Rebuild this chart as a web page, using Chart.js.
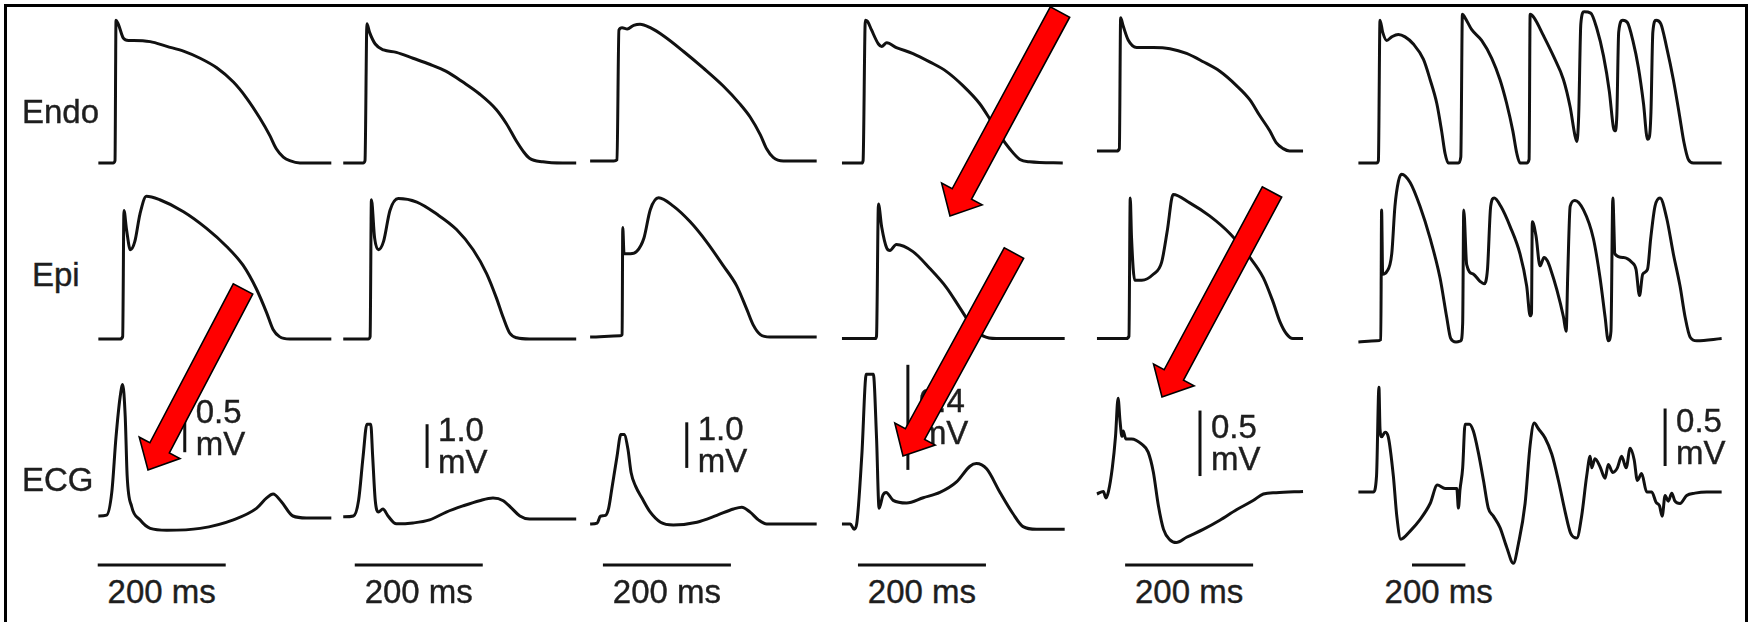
<!DOCTYPE html>
<html>
<head>
<meta charset="utf-8">
<script src="https://cdn.jsdelivr.net/npm/chart.js@4.4.1/dist/chart.umd.min.js"></script>
<style>
	html, body { margin: 0; padding: 0; background: #fff; overflow: hidden; }
	#fig { position: relative; width: 1748px; height: 622px; overflow: hidden; background: #fff; }
	#frame { position: absolute; left: 4px; top: 4px; width: 1744px; height: 700px; border: 3px solid #000; box-sizing: border-box; }
	.lbl { position: absolute; font-family: "Liberation Sans", Arial, sans-serif; font-size: 33px; line-height: 32px; color: #1e1e1e; -webkit-text-stroke: 0.4px #1e1e1e; white-space: nowrap; }
</style>
</head>
<body>
<div id="fig"><div id="frame"></div></div>
<script>
// traces: [time ms, value]; action potentials in mV, ECG in mV
const endoCol1 = [[-26,-85],[-3,-85],[0,-83],[1.6,35],[5,32],[13,20],[21,18],[29,18],[55,17],[81,13],[107,9],[133,3],[159,-5],[185,-17],[205,-30],[226,-47],[242,-62],[252,-73],[263,-80],[273,-83],[289,-85],[338,-85]];
const epiCol1 = [[-26,-85],[8,-85],[12,-83],[14,23],[18,7],[24,-10],[31,-3],[39,20],[49,35],[70,32],[107,22],[143,8],[174,-7],[200,-23],[221,-43],[237,-63],[247,-77],[257,-83],[273,-85],[338,-85]];
const ecgCol1 = [[-26,0],[-13,0.01],[-5,0.25],[1.6,0.83],[8,1.25],[12,1.38],[16,1.04],[19,0.42],[26,0.1],[39,-0.04],[55,-0.13],[81,-0.15],[133,-0.13],[185,-0.04],[221,0.08],[237,0.19],[247,0.23],[260,0.15],[278,0],[299,-0.02],[338,-0.02]];

const endoCol2 = [[-34,-85],[-3,-85],[0,-83],[3,32],[7,25],[16,15],[29,10],[49,8],[75,3],[101,-2],[127,-8],[153,-17],[179,-27],[205,-40],[221,-52],[237,-67],[247,-75],[257,-81],[278,-84],[309,-85],[330,-85]];
const epiCol2 = [[-34,-85],[5,-85],[8,-83],[10,32],[15,0],[21,-10],[29,-3],[39,23],[52,33],[81,30],[112,20],[143,7],[169,-10],[190,-30],[205,-50],[216,-67],[226,-80],[237,-84],[257,-85],[330,-85]];
const ecgCol2 = [[-34,-0.02],[-18,0],[-10,0.36],[-3,1.36],[3,2.1],[9,2.1],[12,1.36],[16,0.36],[21,0.09],[28,0.16],[36,0],[49,-0.18],[75,-0.16],[101,-0.09],[127,0.09],[153,0.23],[179,0.35],[200,0.41],[216,0.35],[229,0.18],[242,0],[257,-0.07],[330,-0.07]];

const endoCol3 = [[-42,-85],[-5,-85],[0,-84],[3,25],[8,27],[16,26],[26,29],[36,30],[52,27],[73,20],[104,7],[135,-7],[166,-22],[192,-37],[208,-48],[224,-63],[234,-75],[244,-82],[260,-85],[312,-85]];
const epiCol3 = [[-42,-85],[5,-84],[8,-83],[9,7],[11,-15],[21,-15],[31,-13],[42,-2],[52,22],[65,32],[88,25],[114,12],[140,-5],[166,-25],[187,-42],[203,-62],[213,-75],[224,-83],[239,-85],[312,-85]];
const ecgCol3 = [[-42,0],[-31,0.02],[-26,0.17],[-18,0.19],[-13,0.35],[-8,0.78],[0,1.48],[6,1.96],[11,1.96],[17,1.65],[22,1.13],[29,0.83],[39,0.57],[52,0.26],[68,0.04],[88,-0.02],[125,0.04],[156,0.19],[182,0.33],[195,0.37],[208,0.26],[221,0.09],[234,0],[312,0]];

const endoCol4 = [[-36,-85],[-5,-85],[-3,-83],[0.5,35],[4,34],[10,27],[21,15],[26,13],[34,16],[49,12],[75,7],[101,0],[127,-8],[153,-20],[179,-35],[195,-48],[211,-62],[226,-73],[242,-82],[257,-84],[309,-85]];
const epiCol4 = [[-36,-85],[16,-85],[18,-83],[21,28],[26,9],[34,-9],[39,-11],[49,-6],[75,-12],[101,-26],[127,-42],[148,-59],[169,-76],[185,-83],[205,-85],[312,-85]];
const ecgCol4 = [[-36,0],[-23,0],[-17,-0.02],[-13,0],[-5,0.26],[2,0.57],[13,0.57],[18,0.33],[22,0.06],[28,0.11],[33,0.12],[44,0.09],[65,0.08],[91,0.1],[117,0.12],[143,0.16],[164,0.22],[174,0.23],[190,0.21],[211,0.12],[231,0.04],[247,-0.01],[268,-0.02],[312,-0.02]];

const endoCol5 = [[-36,-85],[-5,-85],[-1,-83],[1,27],[5,20],[13,8],[26,2],[52,2],[78,1],[104,-3],[130,-10],[156,-18],[182,-30],[203,-42],[218,-55],[234,-68],[244,-78],[255,-83],[265,-85],[286,-85]];
const epiCol5 = [[-36,-85],[10,-85],[14,-83],[16,33],[18,0],[23,-36],[34,-36],[52,-31],[65,-21],[74,6],[83,36],[109,29],[140,18],[172,3],[203,-17],[224,-34],[239,-54],[250,-71],[260,-81],[270,-85],[286,-85]];
const ecgCol5 = [[-36,0],[-26,0.02],[-22,-0.03],[-18,0.02],[-12,0.2],[-7,0.44],[-3,0.73],[0,0.56],[3,0.44],[5,0.48],[9,0.42],[18,0.42],[34,0.38],[44,0.32],[52,0.17],[60,-0.09],[68,-0.27],[78,-0.35],[88,-0.37],[104,-0.33],[130,-0.27],[156,-0.2],[182,-0.12],[208,-0.05],[224,0],[244,0.01],[286,0.02]];

const endoCol6 = [[-81,-85],[-13,-85],[-6,-83],[0,35],[10,25],[25,18],[44,21],[69,23],[94,21],[125,15],[163,2],[188,-15],[213,-35],[231,-58],[244,-77],[256,-85],[294,-85],[303,-80],[309,40],[319,37],[344,27],[381,18],[419,3],[450,-15],[475,-35],[498,-58],[513,-77],[525,-85],[550,-85],[559,-82],[563,40],[578,37],[613,22],[650,5],[688,-15],[713,-38],[731,-62],[738,-67],[745,-45],[753,32],[765,42],[790,41],[813,28],[838,5],[860,-25],[875,-55],[881,-58],[888,-45],[895,25],[910,35],[928,33],[948,18],[969,-5],[988,-35],[1003,-65],[1010,-63],[1016,-42],[1023,25],[1035,35],[1053,32],[1075,12],[1100,-15],[1123,-45],[1140,-68],[1156,-82],[1175,-85],[1281,-85]];
const epiCol6 = [[-81,-85],[-13,-84],[3,-83],[6,26],[10,-28],[25,-26],[44,-11],[56,29],[69,50],[81,56],[113,49],[150,29],[188,2],[225,-31],[250,-64],[265,-82],[285,-85],[303,-84],[310,-69],[314,26],[325,-20],[350,-28],[375,-34],[390,-36],[403,-24],[415,29],[428,36],[453,29],[488,12],[525,-11],[550,-38],[563,-63],[568,-61],[571,16],[585,4],[600,-21],[615,-14],[628,-17],[640,-24],[663,-41],[688,-64],[698,-76],[704,-28],[713,29],[731,34],[763,26],[800,2],[825,-31],[844,-64],[856,-84],[866,-76],[873,36],[881,-11],[913,-14],[944,-18],[960,-24],[973,-46],[985,-28],[1003,-24],[1015,2],[1031,29],[1050,36],[1075,19],[1100,-11],[1125,-38],[1144,-64],[1163,-81],[1188,-84],[1281,-82]];
const ecgCol6 = [[-81,0],[-25,0],[-13,0.14],[-4,0.91],[0,0.55],[6,0.48],[19,0.52],[31,0.48],[50,0.14],[63,-0.21],[78,-0.41],[113,-0.34],[150,-0.24],[188,-0.1],[215,0.06],[244,0.03],[288,0.03],[294,-0.14],[300,0.02],[310,0.21],[319,0.59],[335,0.59],[350,0.53],[369,0.34],[388,0.1],[406,-0.14],[425,-0.21],[450,-0.31],[475,-0.48],[500,-0.62],[519,-0.45],[544,-0.1],[563,0.41],[578,0.6],[594,0.55],[619,0.47],[644,0.33],[669,0.1],[694,-0.17],[715,-0.36],[738,-0.4],[756,-0.21],[775,0.14],[788,0.31],[794,0.21],[806,0.29],[825,0.22],[844,0.12],[856,0.24],[873,0.17],[890,0.21],[906,0.31],[923,0.21],[938,0.38],[953,0.28],[965,0.1],[981,0.16],[1000,0],[1019,0],[1035,-0.09],[1048,-0.12],[1058,-0.21],[1069,-0.03],[1081,-0.08],[1094,-0.01],[1106,-0.08],[1125,-0.1],[1150,-0.03],[1181,-0.01],[1225,0],[1281,0]];

const rowNames = ["Endo", "Epi", "ECG"];
const endoTraces = [endoCol1, endoCol2, endoCol3, endoCol4, endoCol5, endoCol6];
const epiTraces = [epiCol1, epiCol2, epiCol3, epiCol4, epiCol5, epiCol6];
const ecgTraces = [ecgCol1, ecgCol2, ecgCol3, ecgCol4, ecgCol5, ecgCol6];

// voltage calibration bars (ms, mV start, mV length) and 200 ms bars (start ms)
const mvBarTime = [109, 97, 109, 67, 125, 1069];
const mvBarStart = [0.67, 1.1, 1.23, 0.206, 0.137, 0.226];
const mvBarLength = [0.5, 1.0, 1.0, 0.4, 0.5, 0.5];
const mvBarLabels = ["0.5", "1.0", "1.0", "0.4", "0.5", "0.5"];
const timeBarStart = [-27, -16, -22, -11, 8, 120];
const TIME_BAR_MS = 200;

// layout (pixels)
const columns = [
	{ x0: 115, pxPerMs: 0.64, rowY: [163, 339, 516], ecgPxPerMv: 95.2 },
	{ x0: 365, pxPerMs: 0.64, rowY: [163, 339, 516], ecgPxPerMv: 43.7 },
	{ x0: 617, pxPerMs: 0.64, rowY: [161, 337, 524], ecgPxPerMv: 45.6 },
	{ x0: 865, pxPerMs: 0.64, rowY: [163, 338.5, 524], ecgPxPerMv: 262.7 },
	{ x0: 1120, pxPerMs: 0.64, rowY: [151, 338.5, 494], ecgPxPerMv: 131 },
	{ x0: 1380, pxPerMs: 0.2667, rowY: [163, 342, 492], ecgPxPerMv: 115 },
];
const AP_PX_PER_MV = 1.19;
const AP_REST = -85;
const TIME_BAR_Y = 565;
const TIME_TEXT_Y = 592;
const rowLabelPos = [[22, 112], [32, 275], [22, 480]];
const arrows = [
	{ from: [243, 289], to: [148, 470] },
	{ from: [1060, 12], to: [950, 216] },
	{ from: [1014, 253], to: [903, 456] },
	{ from: [1272, 192], to: [1162, 397] },
];

const INK = "#111";
const fig = document.getElementById("fig");

const toPoints = (trace) => trace.map(([t, v]) => ({ x: t, y: v }));

const addLabel = (text, left, top, transform) => {
	const el = document.createElement("div");
	el.className = "lbl";
	el.innerHTML = text;
	el.style.left = `${left}px`;
	el.style.top = `${top}px`;
	if (transform) el.style.transform = transform;
	fig.appendChild(el);
	return el;
};

const makePanel = (col, baseY, pxPerV, rest, datasets) => {
	const all = datasets.flatMap((d) => d.data);
	const margin = 8;
	const tLo = Math.min(...all.map((p) => p.x));
	const tHi = Math.max(...all.map((p) => p.x));
	const vLo = Math.min(...all.map((p) => p.y));
	const vHi = Math.max(...all.map((p) => p.y));
	const left = Math.floor(col.x0 + tLo * col.pxPerMs - margin);
	const right = Math.ceil(col.x0 + tHi * col.pxPerMs + margin);
	const top = Math.floor(baseY - (vHi - rest) * pxPerV - margin);
	const bottom = Math.ceil(baseY - (vLo - rest) * pxPerV + margin);

	const canvas = document.createElement("canvas");
	canvas.width = right - left;
	canvas.height = bottom - top;
	canvas.style.position = "absolute";
	canvas.style.left = `${left}px`;
	canvas.style.top = `${top}px`;
	fig.appendChild(canvas);

	const chart = new Chart(canvas, {
		type: "line",
		data: { datasets },
		options: {
			responsive: false,
			animation: false,
			devicePixelRatio: 1,
			events: [],
			layout: { padding: 0 },
			plugins: { legend: { display: false }, tooltip: { enabled: false } },
			elements: { point: { radius: 0 } },
			scales: {
				x: { type: "linear", display: false, min: (left - col.x0) / col.pxPerMs, max: (right - col.x0) / col.pxPerMs },
				y: { type: "linear", display: false, min: rest + (baseY - bottom) / pxPerV, max: rest + (baseY - top) / pxPerV },
			},
		},
	});
	return { chart, left, top };
};

const traceDataset = (trace) => ({
	data: toPoints(trace),
	borderColor: INK,
	borderWidth: 3,
	cubicInterpolationMode: "monotone",
	fill: false,
	clip: false,
	borderJoinStyle: "round",
});

const barDataset = (points) => ({
	data: points,
	borderColor: INK,
	borderWidth: 3,
	tension: 0,
	fill: false,
	clip: false,
	borderCapStyle: "butt",
});

columns.forEach((col, i) => {
	// action potentials
	makePanel(col, col.rowY[0], AP_PX_PER_MV, AP_REST, [traceDataset(endoTraces[i])]);
	makePanel(col, col.rowY[1], AP_PX_PER_MV, AP_REST, [traceDataset(epiTraces[i])]);

	// ECG with its calibration bars
	const ecgY = col.rowY[2];
	const timeBarV = (ecgY - TIME_BAR_Y) / col.ecgPxPerMv;
	const mvBar = [
		{ x: mvBarTime[i], y: mvBarStart[i] },
		{ x: mvBarTime[i], y: mvBarStart[i] + mvBarLength[i] },
	];
	const timeBar = [
		{ x: timeBarStart[i], y: timeBarV },
		{ x: timeBarStart[i] + TIME_BAR_MS, y: timeBarV },
	];
	const { chart, left, top } = makePanel(col, ecgY, col.ecgPxPerMv, 0, [
		traceDataset(ecgTraces[i]),
		barDataset(mvBar),
		barDataset(timeBar),
	]);

	const sx = chart.scales.x;
	const sy = chart.scales.y;
	const barX = left + sx.getPixelForValue(mvBarTime[i]);
	const barMid = top + sy.getPixelForValue(mvBarStart[i] + mvBarLength[i] / 2);
	addLabel(`${mvBarLabels[i]}<br>mV`, barX + 11, barMid, "translateY(-50%)");

	const timeMid = left + sx.getPixelForValue(timeBarStart[i] + TIME_BAR_MS / 2);
	addLabel(`${TIME_BAR_MS} ms`, timeMid, TIME_TEXT_Y, "translate(-50%, -50%)");
});

rowNames.forEach((name, r) => {
	addLabel(name, rowLabelPos[r][0], rowLabelPos[r][1], "translateY(-50%)");
});

// red arrows drawn on a transparent overlay chart
const arrowPlugin = {
	id: "arrows",
	afterDraw(chart) {
		const { ctx } = chart;
		const sx = chart.scales.x;
		const sy = chart.scales.y;
		const shaft = 11, head = 23, headLen = 25;
		arrows.forEach((a) => {
			const x1 = sx.getPixelForValue(a.from[0]);
			const y1 = sy.getPixelForValue(a.from[1]);
			const x2 = sx.getPixelForValue(a.to[0]);
			const y2 = sy.getPixelForValue(a.to[1]);
			const len = Math.hypot(x2 - x1, y2 - y1);
			const ux = (x2 - x1) / len, uy = (y2 - y1) / len;
			const px = -uy, py = ux;
			const bx = x2 - ux * headLen, by = y2 - uy * headLen;
			ctx.save();
			ctx.beginPath();
			ctx.moveTo(x1 + px * shaft, y1 + py * shaft);
			ctx.lineTo(bx + px * shaft, by + py * shaft);
			ctx.lineTo(bx + px * head, by + py * head);
			ctx.lineTo(x2, y2);
			ctx.lineTo(bx - px * head, by - py * head);
			ctx.lineTo(bx - px * shaft, by - py * shaft);
			ctx.lineTo(x1 - px * shaft, y1 - py * shaft);
			ctx.closePath();
			ctx.fillStyle = "#ff0000";
			ctx.fill();
			ctx.lineWidth = 1.6;
			ctx.lineJoin = "miter";
			ctx.strokeStyle = "#000";
			ctx.stroke();
			ctx.restore();
		});
	},
};

const overlay = document.createElement("canvas");
overlay.width = 1748;
overlay.height = 622;
overlay.style.position = "absolute";
overlay.style.left = "0px";
overlay.style.top = "0px";
fig.appendChild(overlay);
new Chart(overlay, {
	type: "line",
	data: { datasets: [] },
	options: {
		responsive: false,
		animation: false,
		devicePixelRatio: 1,
		events: [],
		layout: { padding: 0 },
		plugins: { legend: { display: false }, tooltip: { enabled: false } },
		scales: {
			x: { type: "linear", display: false, min: 0, max: 1748 },
			y: { type: "linear", display: false, min: 0, max: 622, reverse: true },
		},
	},
	plugins: [arrowPlugin],
});
</script>
</body>
</html>
